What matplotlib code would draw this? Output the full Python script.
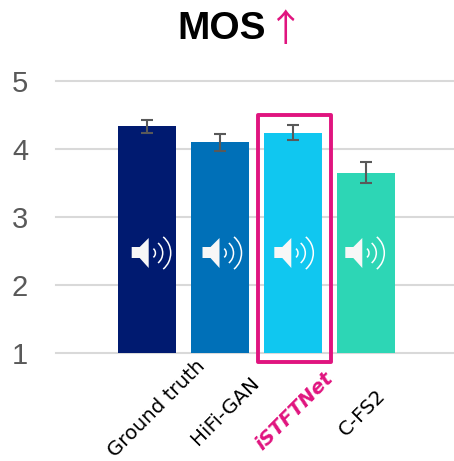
import matplotlib
matplotlib.use('Agg')
import matplotlib.pyplot as plt
from matplotlib.patches import Arc, Polygon, Rectangle

W, H = 454, 461

methods = ['Ground truth', 'HiFi-GAN', 'iSTFTNet', 'C-FS2']
mos = [4.33, 4.10, 4.24, 3.65]
mos_err = [0.10, 0.125, 0.11, 0.15]
yticks = [1, 2, 3, 4, 5]
bar_colors = ['#001A70', '#0070B8', '#10C7F0', '#2DD6B5']

PINK = '#E0147F'
GRAY = '#595959'
GRID = '#D9D9D9'

fig = plt.figure(figsize=(W / 100, H / 100), dpi=100)

# axes box in pixels: left 56, right 454, top 81, bottom 352.5
ax = fig.add_axes([56 / W, 1 - 352.5 / H, 398 / W, 271.5 / H])
ax.set_xlim(-1.247, 4.205)
ax.set_ylim(1, 5)
ax.bar(range(4), mos, width=0.795, color=bar_colors, zorder=2)
ax.errorbar(range(4), mos, yerr=mos_err, fmt='none', ecolor=GRAY, elinewidth=1.5,
            capsize=4.2, capthick=1.5, zorder=3)

for side in ax.spines.values():
    side.set_visible(False)
ax.set_yticks(yticks)
ax.yaxis.grid(True, color=GRID, linewidth=1.5, zorder=0)
ax.set_axisbelow(True)
for line in ax.yaxis.get_gridlines():
    line.set_clip_on(False)
ax.tick_params(axis='y', length=0, pad=20, labelsize=21, labelcolor=GRAY)
for label in ax.get_yticklabels():
    label.set_fontfamily('Liberation Sans')
ax.set_xticks([])

# overlay in pixel coordinates for the title, labels, frame and speaker icons
over = fig.add_axes([0, 0, 1, 1], facecolor='none')
over.set_xlim(0, W)
over.set_ylim(H, 0)
over.axis('off')


def speaker(x0):
    cone = [(x0, 247), (x0 + 8, 247), (x0 + 17, 238), (x0 + 17, 268), (x0 + 8, 258), (x0, 258)]
    over.add_patch(Polygon(cone, closed=True, facecolor='#F7F7F7', edgecolor='none', zorder=5))
    # three sound waves around a common centre
    for dia in [11.4, 26, 42]:
        over.add_patch(Arc((x0 + 18, 253), dia, dia, theta1=-50, theta2=50, color='white',
                           linewidth=1.1, zorder=5))


for x0 in [131.7, 202.5, 274.3, 345.3]:
    speaker(x0)

over.add_patch(Rectangle((257.5, 114.5), 73, 247, fill=False, edgecolor=PINK, linewidth=2.8,
                         joinstyle='round', zorder=6))

# category labels, slanted and centred under each bar
for name, cx, cy in zip(methods, [157, 225, 294, 362], [409, 411, 411, 413]):
    special = name == 'iSTFTNet'
    over.text(cx, cy, name, rotation=45, rotation_mode='anchor', ha='center', va='center',
              family='DejaVu Sans', fontsize=14.3,
              color=PINK if special else 'black',
              fontweight='bold' if special else 'normal',
              fontstyle='italic' if special else 'normal')

over.text(222, 29, 'MOS', family='Liberation Sans', fontweight='bold', fontsize=28, color='black',
          ha='center', va='center')
over.text(286, 30, '↑', family=['Noto Sans CJK JP', 'DejaVu Sans'], fontsize=27, color=PINK,
          ha='center', va='center')

fig.savefig('out.png', dpi=100)
